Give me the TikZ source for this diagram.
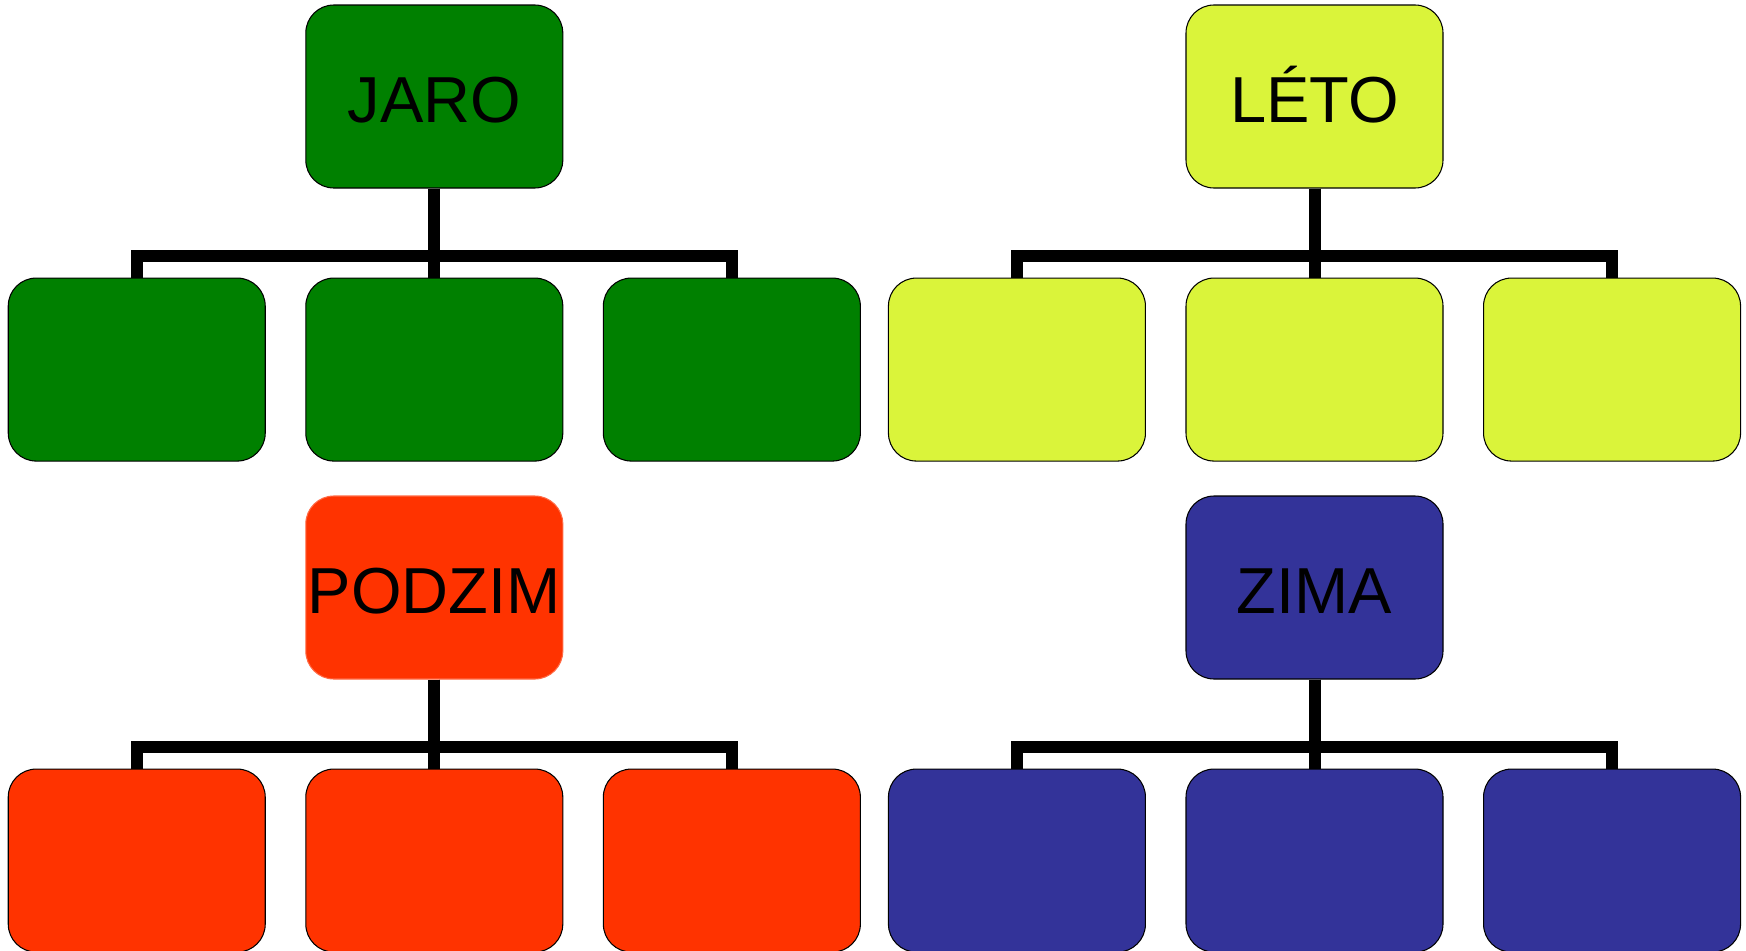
\documentclass[tikz,border=0pt]{standalone}
\usepackage{fontspec}
\setmainfont{Liberation Sans}
\usepackage{tikz}
\usetikzlibrary{positioning}

\definecolor{jarogreen}{HTML}{008000}
\definecolor{letolime}{HTML}{DAF43A}
\definecolor{podzimred}{HTML}{FF3300}
\definecolor{podzimedge}{HTML}{FF6A45}
\definecolor{zimablue}{HTML}{333399}

\begin{document}
\begin{tikzpicture}[
    box/.style = {draw, rounded corners = 0.56cm, minimum width = 5.14cm, minimum height = 3.66cm,
                  line width = 0.6pt, inner sep = 0pt, text height = 1.04cm, text depth = 0cm,
                  font = \fontsize{37}{44}\selectfont},
    link/.style = {line width = 0.24cm},
    node distance = 1.78cm and 0.79cm
  ]
            \useasboundingbox (0,0) rectangle (34.92,-19.02);
            % spring
            \node [box, fill = jarogreen] (jaro) at (8.686,-1.93) {JARO};
            \node [box, fill = jarogreen, below = of jaro] (jaro2) {};
            \node [box, fill = jarogreen, left = of jaro2] (jaro1) {};
            \node [box, fill = jarogreen, right = of jaro2] (jaro3) {};
            \draw [link] (jaro.south) -- ++(0,-1.34) -| (jaro1.north);
            \draw [link] (jaro.south) -- ++(0,-1.34) -| (jaro3.north);
            \draw [link] (jaro.south) -- (jaro2.north);
            % summer
            \node [box, fill = letolime] (leto) at (26.29,-1.93) {LÉTO};
            \node [box, fill = letolime, below = of leto] (leto2) {};
            \node [box, fill = letolime, left = of leto2] (leto1) {};
            \node [box, fill = letolime, right = of leto2] (leto3) {};
            \draw [link] (leto.south) -- ++(0,-1.34) -| (leto1.north);
            \draw [link] (leto.south) -- ++(0,-1.34) -| (leto3.north);
            \draw [link] (leto.south) -- (leto2.north);
            % autumn
            \node [box, fill = podzimred, draw = podzimedge] (podzim) at (8.686,-11.75) {PODZIM};
            \node [box, fill = podzimred, below = of podzim] (podzim2) {};
            \node [box, fill = podzimred, left = of podzim2] (podzim1) {};
            \node [box, fill = podzimred, right = of podzim2] (podzim3) {};
            \draw [link] (podzim.south) -- ++(0,-1.34) -| (podzim1.north);
            \draw [link] (podzim.south) -- ++(0,-1.34) -| (podzim3.north);
            \draw [link] (podzim.south) -- (podzim2.north);
            % winter
            \node [box, fill = zimablue] (zima) at (26.29,-11.75) {ZIMA};
            \node [box, fill = zimablue, below = of zima] (zima2) {};
            \node [box, fill = zimablue, left = of zima2] (zima1) {};
            \node [box, fill = zimablue, right = of zima2] (zima3) {};
            \draw [link] (zima.south) -- ++(0,-1.34) -| (zima1.north);
            \draw [link] (zima.south) -- ++(0,-1.34) -| (zima3.north);
            \draw [link] (zima.south) -- (zima2.north);
\end{tikzpicture}
\end{document}
